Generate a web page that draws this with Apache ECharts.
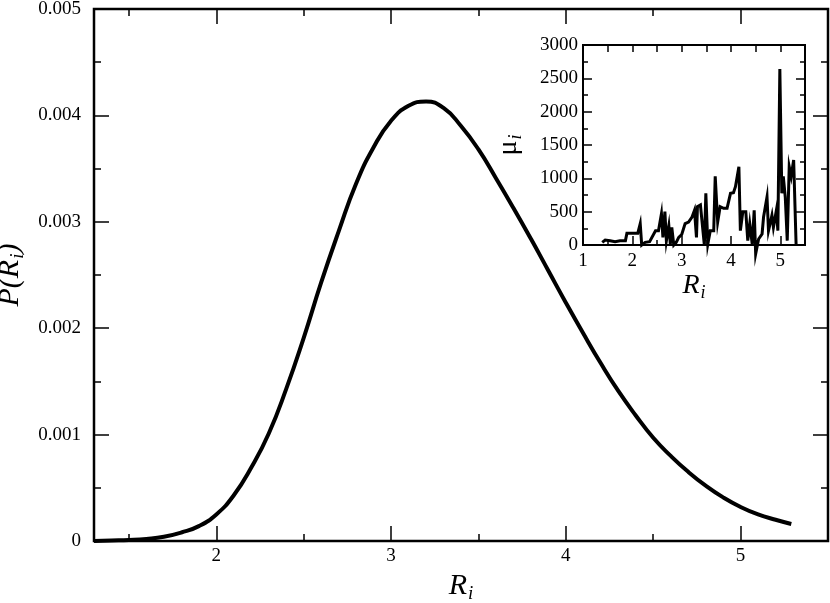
<!DOCTYPE html>
<html>
<head>
<meta charset="utf-8">
<script src="https://cdn.jsdelivr.net/npm/echarts@6/dist/echarts.min.js"></script>
<style>
  html, body { margin: 0; padding: 0; background: #fff; }
  #chart { width: 830px; height: 603px; }
</style>
</head>
<body>
<div id="chart"></div>
<script>
// main curve P(R_i)
const mainR = [1.3, 1.4, 1.5, 1.6, 1.7, 1.8, 1.9, 2.0, 2.1, 2.2, 2.3, 2.4, 2.5, 2.6, 2.7, 2.8, 2.9, 3.0, 3.1, 3.2, 3.3, 3.4, 3.5, 3.6, 3.7, 3.8, 3.9, 4.0, 4.1, 4.2, 4.3, 4.4, 4.5, 4.6, 4.7, 4.8, 4.9, 5.0, 5.1, 5.2, 5.29]
const mainP = [0.00000, 0.000005, 0.00001, 0.00002, 0.00004, 0.00008, 0.00014, 0.00025, 0.00043, 0.00069, 0.00101, 0.00143, 0.00191, 0.00243, 0.00291, 0.00336, 0.00370, 0.00395, 0.00409, 0.00413, 0.00407, 0.00390, 0.00368, 0.00341, 0.00313, 0.00284, 0.00254, 0.00224, 0.00195, 0.00167, 0.00141, 0.00118, 0.00097, 0.00080, 0.00065, 0.00052, 0.00041, 0.00032, 0.00025, 0.00020, 0.00016]

// inset mu_i vs R_i
const insetR = [1.39, 1.45, 1.55, 1.65, 1.75, 1.86, 1.89, 2.03, 2.11, 2.16, 2.19, 2.26, 2.35, 2.47, 2.53, 2.59, 2.62, 2.66, 2.69, 2.74, 2.77, 2.80, 2.84, 2.89, 2.94, 3.00, 3.07, 3.14, 3.21, 3.26, 3.30, 3.32, 3.38, 3.41, 3.46, 3.49, 3.53, 3.58, 3.65, 3.68, 3.73, 3.78, 3.85, 3.92, 3.99, 4.05, 4.09, 4.16, 4.19, 4.24, 4.30, 4.34, 4.38, 4.43, 4.47, 4.50, 4.56, 4.63, 4.66, 4.73, 4.76, 4.83, 4.86, 4.92, 4.95, 4.99, 5.03, 5.06, 5.10, 5.14, 5.17, 5.18, 5.22, 5.27, 5.32]
const insetMu = [40, 75, 65, 50, 65, 65, 175, 175, 175, 320, 0, 40, 50, 215, 215, 470, 115, 500, 65, 290, 15, 265, 0, 40, 115, 155, 320, 345, 420, 520, 115, 575, 600, 575, 0, 775, 15, 215, 215, 1030, 345, 575, 550, 550, 775, 785, 875, 1175, 215, 500, 500, 65, 320, 15, 520, -135, 90, 165, 420, 720, 215, 445, 265, 520, 215, 2640, 775, 1030, 720, 65, 65, 1175, 1030, 1275, 0]

// ticks
const mainXTicks = [2, 3, 4, 5]
const mainXMinor = [1.5, 2.5, 3.5, 4.5]
const insetXTicks = [1, 2, 3, 4, 5]
const insetXMinor = [1.5, 2.5, 3.5, 4.5, 5.5]

const FONT = 'Liberation Serif'
const black = '#000'

function xAxisCfg(grid, pos, ticks, len, opts) {
  return Object.assign({
    type: 'value', gridIndex: grid, position: pos,
    min: grid === 0 ? 1.3 : 1, max: 5.5,
    splitLine: { show: false },
    axisLine: { show: false },
    axisTick: { show: true, inside: true, length: len, customValues: ticks, lineStyle: { color: black, width: 1.5 } },
    axisLabel: { show: false }
  }, opts || {})
}

function yAxisCfg(grid, pos, opts) {
  const main = grid === 0
  return Object.assign({
    type: 'value', gridIndex: grid, position: pos,
    min: 0, max: main ? 0.005 : 3000, interval: main ? 0.001 : 500,
    splitLine: { show: false },
    axisLine: { show: false },
    axisTick: { show: true, inside: true, length: main ? 15 : 9, lineStyle: { color: black, width: 1.5 } },
    minorTick: { show: true, splitNumber: 2, length: main ? 7 : 5, lineStyle: { color: black, width: 1.5 } },
    axisLabel: { show: false }
  }, opts || {})
}

const subRich = {
  it: { fontFamily: FONT, fontStyle: 'italic', fontSize: 30, color: black },
  sub: { fontFamily: FONT, fontStyle: 'italic', fontSize: 19, color: black, padding: [16, 0, 0, 1] }
}
const insetRich = {
  it: { fontFamily: FONT, fontStyle: 'italic', fontSize: 28, color: black },
  up: { fontFamily: FONT, fontSize: 28, color: black },
  sub: { fontFamily: FONT, fontStyle: 'italic', fontSize: 18, color: black, padding: [15, 0, 0, 1] }
}

const chart = echarts.init(document.getElementById('chart'))
chart.setOption({
  backgroundColor: '#fff',
  animation: false,
  grid: [
    { left: 94, top: 9, right: 2, bottom: 62, outerBoundsMode: 'none', show: true, borderColor: black, borderWidth: 2.5, backgroundColor: 'transparent' },
    { left: 583, top: 45, width: 222, height: 200, outerBoundsMode: 'none', show: true, borderColor: black, borderWidth: 2, backgroundColor: '#fff' }
  ],
  xAxis: [
    xAxisCfg(0, 'bottom', mainXTicks, 15, {
      axisLabel: { show: true, customValues: mainXTicks, fontFamily: FONT, fontSize: 19, color: black, margin: 6 },
      name: '{it|R}{sub|i}', nameLocation: 'middle', nameGap: 26,
      nameTextStyle: { rich: subRich }
    }),
    xAxisCfg(0, 'bottom', mainXMinor, 7),
    xAxisCfg(0, 'top', mainXTicks, 15),
    xAxisCfg(0, 'top', mainXMinor, 7),
    xAxisCfg(1, 'bottom', insetXTicks, 9, {
      axisLabel: { show: true, customValues: insetXTicks, fontFamily: FONT, fontSize: 19, color: black, margin: 7 },
      name: '{it|R}{sub|i}', nameLocation: 'middle', nameGap: 24,
      nameTextStyle: { rich: insetRich }
    }),
    xAxisCfg(1, 'bottom', insetXMinor, 5),
    xAxisCfg(1, 'top', insetXTicks, 7),
    xAxisCfg(1, 'top', insetXMinor, 7)
  ],
  yAxis: [
    yAxisCfg(0, 'left', {
      axisLabel: {
        show: true, fontFamily: FONT, fontSize: 19, color: black, margin: 13,
        formatter: v => v === 0 ? '0' : v.toFixed(3)
      },
      name: '{it|P(R}{sub|i}{it|)}', nameLocation: 'middle', nameGap: 66, nameRotate: 90,
      nameTextStyle: { rich: subRich }
    }),
    yAxisCfg(0, 'right'),
    yAxisCfg(1, 'left', {
      axisLabel: { show: true, fontFamily: FONT, fontSize: 19, color: black, margin: 5, formatter: v => String(v) },
      name: '{up|μ}{sub|i}', nameLocation: 'middle', nameGap: 58, nameRotate: 90,
      nameTextStyle: { rich: insetRich }
    }),
    yAxisCfg(1, 'right')
  ],
  series: [
    {
      type: 'line', xAxisIndex: 0, yAxisIndex: 0, smooth: true, symbol: 'none',
      lineStyle: { color: black, width: 4 },
      data: mainR.map((r, i) => [r, mainP[i]])
    },
    {
      type: 'line', xAxisIndex: 4, yAxisIndex: 2, symbol: 'none', clip: false,
      lineStyle: { color: black, width: 3, join: 'miter' },
      data: insetR.map((r, i) => [r, insetMu[i]])
    }
  ]
})
</script>
</body>
</html>
